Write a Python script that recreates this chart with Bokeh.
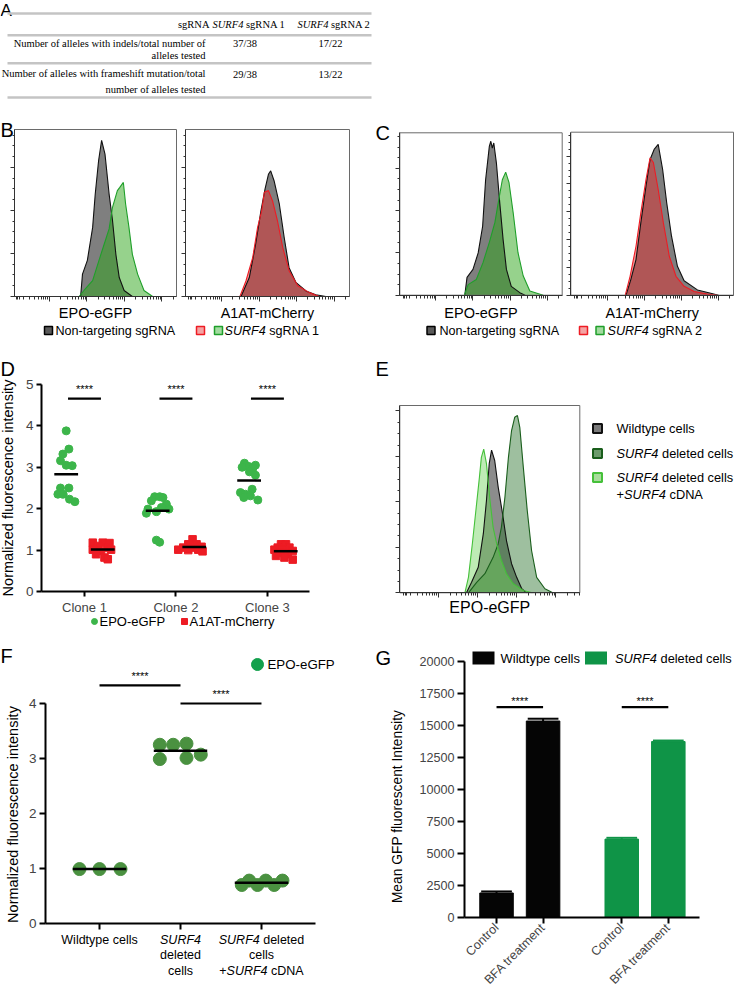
import math
from bokeh.plotting import figure
from bokeh.models import Range1d, FixedTicker, LinearAxis
from bokeh.core.properties import value
from bokeh.embed import file_html
from bokeh.resources import INLINE

SANS = "Liberation Sans"
SERIF = "Liberation Serif"

# ======================= DATA =======================
# Panel A (table)
tab_header = ["sgRNA", "SURF4", "sgRNA 1", "SURF4", "sgRNA 2"]
tab_row1 = ["Number of alleles with indels/total number of", "alleles tested"]
tab_row2 = ["Number of alleles with frameshift mutation/total", "number of alleles tested"]
tab_sg1 = ["37/38", "29/38"]
tab_sg2 = ["17/22", "13/22"]

# Panels B/C histograms: x = log10 fluorescence, y = cell count (a.u.)
b_ntc_epo_x = [2.83, 2.88, 3.01, 3.15, 3.22, 3.31, 3.39, 3.48, 3.59, 3.68, 3.77, 3.86, 3.99, 4.21]
b_ntc_epo_y = [0, 0.52, 0.84, 1.60, 2.38, 3.16, 3.63, 3.31, 2.38, 1.77, 0.98, 0.44, 0.14, 0]
b_sg1_epo_x = [2.79, 2.92, 3.15, 3.32, 3.46, 3.59, 3.68, 3.81, 3.87, 3.97, 4.03, 4.12, 4.21, 4.35, 4.52, 4.75]
b_sg1_epo_y = [0, 0.14, 0.37, 0.84, 1.22, 1.57, 2.07, 2.46, 2.53, 2.65, 2.15, 1.60, 0.98, 0.52, 0.14, 0]
b_ntc_a1at_x = [2.52, 2.74, 2.91, 3.05, 3.16, 3.25, 3.31, 3.40, 3.54, 3.67, 3.80, 3.98, 4.25, 4.51, 4.78]
b_ntc_a1at_y = [0, 0.44, 1.22, 1.99, 2.50, 2.84, 2.92, 2.69, 2.15, 1.37, 0.67, 0.33, 0.13, 0.04, 0]
b_sg1_a1at_x = [2.49, 2.65, 2.83, 2.96, 3.07, 3.14, 3.25, 3.36, 3.49, 3.63, 3.80, 4.03, 4.34, 4.60]
b_sg1_a1at_y = [0, 0.36, 0.90, 1.60, 1.99, 2.42, 2.46, 2.22, 1.76, 1.14, 0.60, 0.25, 0.09, 0]

c_ntc_epo_x = [2.78, 2.84, 3.00, 3.14, 3.26, 3.34, 3.44, 3.48, 3.52, 3.56, 3.63, 3.72, 3.81, 3.90, 4.03, 4.26, 4.40]
c_ntc_epo_y = [0, 0.42, 0.61, 1.00, 1.63, 2.73, 3.52, 3.64, 3.48, 3.60, 3.13, 2.19, 1.32, 0.61, 0.21, 0.06, 0]
c_sg2_epo_x = [2.77, 2.87, 3.09, 3.27, 3.44, 3.59, 3.68, 3.79, 3.88, 3.97, 4.08, 4.21, 4.35, 4.53, 4.89]
c_sg2_epo_y = [0, 0.25, 0.37, 0.77, 1.25, 1.72, 2.19, 2.73, 2.91, 2.66, 1.96, 1.01, 0.46, 0.10, 0]
c_ntc_a1at_x = [2.50, 2.63, 2.77, 2.90, 3.04, 3.15, 3.26, 3.37, 3.49, 3.60, 3.73, 3.89, 4.07, 4.43, 4.79, 5.00]
c_ntc_a1at_y = [0, 0.56, 1.28, 2.60, 3.92, 4.88, 5.24, 5.42, 4.52, 3.32, 2.12, 1.04, 0.52, 0.19, 0.07, 0]
c_sg2_a1at_x = [2.48, 2.61, 2.77, 2.90, 3.04, 3.15, 3.24, 3.37, 3.51, 3.67, 3.85, 4.07, 4.34, 4.70, 4.97]
c_sg2_a1at_y = [0, 0.68, 1.76, 2.96, 4.16, 4.94, 4.77, 3.80, 2.60, 1.40, 0.68, 0.32, 0.13, 0.04, 0]

# Panel D
d_clones = ["Clone 1", "Clone 2", "Clone 3"]
d_epo = [[3.88, 3.44, 3.32, 3.16, 3.05, 3.04, 2.50, 2.50, 2.35, 2.35, 2.23, 2.17],
         [2.29, 2.29, 2.27, 2.19, 2.11, 1.99, 1.99, 2.03, 1.93, 1.89, 1.24, 1.19],
         [3.10, 3.05, 3.02, 3.00, 2.97, 2.89, 2.81, 2.47, 2.39, 2.35, 2.31, 2.27, 2.21]]
d_a1at = [[1.18, 1.18, 1.17, 1.10, 1.06, 1.01, 0.98, 1.01, 0.90, 0.82, 0.78],
          [1.26, 1.14, 1.14, 1.06, 1.06, 1.08, 1.01, 1.00, 1.01, 0.97],
          [1.14, 1.14, 1.06, 1.06, 1.01, 1.01, 0.98, 0.93, 0.90, 0.86, 0.82, 0.77]]
# horizontal scatter of the dots (pixels)
d_epo_jit = [[0, 2.7, -3.3, -5.7, 0, 6, -5.7, 2.7, -8.3, -3, 3.3, 8.7],
             [-3, 2, 5.3, -6.3, 8.7, -9.7, 11.3, 3.7, -1.3, -11.3, -1.3, 2],
             [-4.7, 6.3, -0.3, -7, 3.7, 0.3, 6.3, 3, -8.7, -3.7, 1.3, -5.3, 8.7]]
d_a1at_jit = [[-10, 0, 6.7, -5, 5, -10, -1.7, 8.3, -6.7, 1.7, 5],
              [-1.7, -6, 2.3, -11, -1, 7.3, -16, -6, 4, 8.3],
              [-4.7, 0.3, -8, 3.7, -11.3, -3, 7, -6.3, 2, -9.7, -1.3, 7]]

# Panel E histograms
e_wt_x = [2.72, 2.85, 3.02, 3.15, 3.23, 3.30, 3.36, 3.44, 3.53, 3.64, 3.74, 3.87, 4.00, 4.13, 4.25]
e_wt_y = [0, 0.23, 0.56, 1.30, 2.03, 2.84, 3.14, 2.91, 2.32, 1.74, 1.15, 0.64, 0.34, 0.09, 0]
e_del_x = [2.77, 2.98, 3.19, 3.40, 3.53, 3.61, 3.70, 3.79, 3.87, 3.95, 4.02, 4.08, 4.17, 4.27, 4.38, 4.51, 4.72, 4.92]
e_del_y = [0, 0.23, 0.42, 0.78, 1.08, 1.44, 2.10, 2.98, 3.57, 3.86, 3.90, 3.64, 2.76, 1.81, 0.93, 0.34, 0.09, 0]
e_cdna_x = [2.68, 2.77, 2.87, 2.96, 3.05, 3.10, 3.16, 3.23, 3.32, 3.40, 3.49, 3.61, 3.74, 3.91, 4.17, 4.40]
e_cdna_y = [0, 0.34, 1.08, 1.81, 2.54, 2.98, 3.16, 2.84, 2.03, 1.44, 1.08, 0.71, 0.42, 0.20, 0.05, 0]

# Panel F
f_groups = [["Wildtype cells"], ["SURF4", "deleted", "cells"], ["SURF4 deleted", "cells", "+SURF4 cDNA"]]
f_values = [[0.99, 0.99, 0.99],
            [3.25, 3.25, 3.27, 2.99, 3.01, 3.07],
            [0.70, 0.78, 0.70, 0.78, 0.70, 0.78]]
f_jit = [[-20, 0, 21], [-20.7, -7.3, 6, -20.7, 6, 20.3], [-19.7, -12.3, -4, 4.3, 12.7, 21]]

# Panel G
g_labels = ["Control", "BFA treatment", "Control", "BFA treatment"]
g_means = [1915, 15350, 6125, 13745]
g_sd = [120, 180, 100, 80]

# ======================= HELPERS =======================
AW = {' ': 278, '*': 389, '+': 584, '-': 333, '/': 278, '.': 278}
for ch in "0123456789":
    AW[ch] = 556
AW.update(dict(A=667, B=667, C=722, D=722, E=667, F=611, G=778, H=722, I=278, J=500, K=667, L=556, M=833,
               N=722, O=778, P=667, Q=778, R=722, S=667, T=611, U=722, V=667, W=944, X=667, Y=667, Z=611,
               a=556, b=556, c=500, d=556, e=556, f=278, g=556, h=556, i=222, j=222, k=500, l=222, m=833,
               n=556, o=556, p=556, q=556, r=333, s=500, t=278, u=556, v=500, w=722, x=500, y=500, z=500))
TW = {' ': 250, 'A': 722, 'N': 722, 'R': 667, 'g': 500, 's': 389, '1': 500, '2': 500}
TWI = {'S': 500, 'U': 722, 'R': 611, 'F': 611, '4': 500, ' ': 250}


def twidth(s, size, italic=False, serif=False):
    if serif:
        tab = TWI if italic else TW
        return sum(tab.get(c, 500) for c in s) * size / 1000.0
    return sum(AW.get(c, 556) for c in s) * size / 1000.0


W, H = 734, 991
p = figure(width=W, height=H, x_range=Range1d(0, W), y_range=Range1d(H, 0), title=None,
           x_axis_type=None, y_axis_type=None, min_border=0,
           output_backend="svg", toolbar_location=None)
p.outline_line_color = None
p.background_fill_color = "white"


def T(x, y, s, size, align="left", baseline="middle", italic=False, angle=0.0, font=SANS, color="black"):
    p.text(x=[x], y=[y], text=[s], angle=angle, text_font=value(font), text_font_size=value("%.1fpx" % size),
           text_font_style=value("italic" if italic else "normal"), text_align=value(align),
           text_baseline=value(baseline), text_color=color)


def rich(x, y, parts, size, align="left", font=SANS, serif=False):
    widths = [twidth(t, size, it, serif) for t, it in parts]
    if align == "center":
        x -= sum(widths) / 2.0
    elif align == "right":
        x -= sum(widths)
    for (t, it), w in zip(parts, widths):
        lead = len(t) - len(t.lstrip(" "))
        s = t.strip()
        if s:
            T(x + twidth(" " * lead, size, it, serif), y, s, size, italic=it, font=font)
        x += w


XR, YR, MAP = {}, {}, {}


def panel(name, px0, px1, v0, v1, py_bot, py_top, w_bot, w_top):
    """Data ranges so that x data v0..v1 spans canvas px0..px1 and y data w_bot..w_top spans py_bot..py_top."""
    sx = (v1 - v0) / float(px1 - px0)
    XR[name] = Range1d(v0 - px0 * sx, v0 + (W - px0) * sx)
    sy = (w_top - w_bot) / float(py_bot - py_top)
    YR[name] = Range1d(w_bot - (H - py_bot) * sy, w_bot + py_bot * sy)
    MAP[name] = (lambda v: px0 + (v - v0) / sx, lambda w: py_bot - (w - w_bot) / sy)


def axis(side, name, ticks, fixed, bounds, minor=(), labels=None, tick_out=5, minor_out=0, lw=1.0,
         size="13px", orient=None, color="black", standoff=3):
    ax = LinearAxis(x_range_name=name, y_range_name=name)
    ax.ticker = FixedTicker(ticks=list(ticks), minor_ticks=list(minor))
    ax.fixed_location = fixed
    ax.bounds = bounds
    if labels is None:
        ax.major_label_overrides = {t: "" for t in ticks}
    else:
        ax.major_label_overrides = dict(zip(ticks, labels))
    ax.major_label_text_font = SANS
    ax.major_label_text_font_size = size
    ax.major_label_standoff = standoff
    ax.major_tick_out = tick_out
    ax.major_tick_in = 0
    ax.minor_tick_out = minor_out
    ax.minor_tick_in = 0
    ax.axis_line_width = lw
    ax.major_tick_line_width = lw
    ax.axis_line_color = color
    ax.major_tick_line_color = color
    ax.minor_tick_line_color = color
    if orient is not None:
        ax.major_label_orientation = orient
    p.add_layout(ax, side)
    return ax


# panel geometry (canvas pixels)
panel("b1", 14, 176, 1.067, 5.387, 296, 129, 0, 3.88)
panel("b2", 185, 349, 1.04, 5.41, 296, 129, 0, 3.88)
panel("c1", 399.3, 561.7, 1.032, 5.40, 294.7, 132.3, 0, 3.84)
panel("c2", 570.3, 733, 1.008, 5.405, 294.7, 131.7, 0, 5.86)
panel("e", 399.3, 579.3, 1.02, 5.61, 592.3, 405, 0, 4.12)
panel("d", 41, 309, 0.53, 3.46, 591, 384, 0, 5)
panel("f", 45, 315, 0.333, 3.667, 923, 703, 0, 4)
panel("g", 464, 699, 0.312, 5.36, 917, 661, 0, 20000)
p.extra_x_ranges = XR
p.extra_y_ranges = YR

# ======================= PANEL A =======================
T(0, 0, "A", 17, baseline="top")
p.segment(x0=[7] * 4, y0=[13, 34.7, 62.7, 97], x1=[371] * 4, y1=[13, 34.7, 62.7, 97],
          line_color="#c4c4c4", line_width=2.5)
TS = 10.5
T(209, 23.7, tab_header[0], TS, align="right", font=SERIF)
rich(212, 23.7, [(tab_header[1], True), (" " + tab_header[2], False)], TS, font=SERIF, serif=True)
rich(297, 23.7, [(tab_header[3], True), (" " + tab_header[4], False)], TS, font=SERIF, serif=True)
for yy, s in zip([42.5, 55, 73, 88.7], tab_row1 + tab_row2):
    T(205, yy, s, TS, align="right", font=SERIF)
for yy, s in zip([43, 74], tab_sg1):
    T(244.5, yy, s, TS, align="center", font=SERIF)
for yy, s in zip([43, 74], tab_sg2):
    T(330, yy, s, TS, align="center", font=SERIF)

# ======================= HISTOGRAMS (B, C, E) =======================
HX_MAJOR = [2, 3, 4, 5]
HX_MINOR = [1.12, 1.16, 1.2] + [d + math.log10(k) for d in (1, 2, 3, 4, 5) for k in range(2, 10)]
MAP_RANGE = {"b1": ((1.067, 5.387), 3.88), "b2": ((1.04, 5.41), 3.88), "c1": ((1.032, 5.40), 3.84),
             "c2": ((1.008, 5.405), 5.86), "e": ((1.02, 5.61), 4.12)}


def hist(name, curves, xlabel, xlsize, xly):
    xr0, xr1 = MAP_RANGE[name][0]
    ymax = MAP_RANGE[name][1]
    for xs, ys, fc, fa, lc in curves:
        p.varea(x=xs, y1=0, y2=ys, fill_color=fc, fill_alpha=fa, x_range_name=name, y_range_name=name)
    for xs, ys, fc, fa, lc in curves:
        p.line(xs, ys, line_color=lc, line_width=1.1, x_range_name=name, y_range_name=name)
    p.quad(left=[xr0], right=[xr1], bottom=[0], top=[ymax], fill_color=None, line_color="#6a6a6a",
           line_width=1, x_range_name=name, y_range_name=name)
    axis("below", name, [t for t in HX_MAJOR if xr0 <= t <= xr1], 0, (xr0, xr1),
         minor=[t for t in HX_MINOR if xr0 <= t <= xr1], tick_out=5, minor_out=3, color="#333333")
    n = int(ymax)
    axis("left", name, list(range(n + 1)), xr0, (0, ymax),
         minor=[i * 0.25 for i in range(int(ymax * 4) + 1)], tick_out=4, minor_out=2, color="#333333")
    fx, fy = MAP[name]
    T((fx(xr0) + fx(xr1)) / 2.0, xly, xlabel, xlsize, align="center")


GREEN_F = "#2da519"
RED_F = "#e12d2d"
GREEN_L = "#1f9f2a"
RED_L = "#ee1c24"

hist("b1", [(b_ntc_epo_x, b_ntc_epo_y, "#000000", 0.5, "#111111"),
            (b_sg1_epo_x, b_sg1_epo_y, GREEN_F, 0.5, GREEN_L)], "EPO-eGFP", 14.5, 312)
hist("b2", [(b_ntc_a1at_x, b_ntc_a1at_y, "#000000", 0.5, "#111111"),
            (b_sg1_a1at_x, b_sg1_a1at_y, RED_F, 0.5, RED_L)], "A1AT-mCherry", 14.3, 312)
hist("c1", [(c_ntc_epo_x, c_ntc_epo_y, "#000000", 0.5, "#111111"),
            (c_sg2_epo_x, c_sg2_epo_y, GREEN_F, 0.5, GREEN_L)], "EPO-eGFP", 14.5, 312)
hist("c2", [(c_ntc_a1at_x, c_ntc_a1at_y, "#000000", 0.5, "#111111"),
            (c_sg2_a1at_x, c_sg2_a1at_y, RED_F, 0.5, RED_L)], "A1AT-mCherry", 14.3, 312)
hist("e", [(e_wt_x, e_wt_y, "#000000", 0.45, "#111111"),
           (e_del_x, e_del_y, "#28702a", 0.45, "#1a5e1c"),
           (e_cdna_x, e_cdna_y, "#6ed25a", 0.45, "#45c03a")], "EPO-eGFP", 16, 607)

# B / C legends
LS = 12.6
sq = dict(width=8, height=8, line_width=1.5)
p.rect(x=[48, 430.5], y=[330, 330], fill_color="#5a5a5a", line_color="black", **sq)
p.rect(x=[200, 583], y=[330, 330], fill_color="#f4a3a3", line_color=RED_L, **sq)
p.rect(x=[218, 599.5], y=[330, 330], fill_color="#a3dba0", line_color=GREEN_L, **sq)
T(55, 330, "Non-targeting sgRNA", LS)
T(439, 330, "Non-targeting sgRNA", LS)
rich(224, 330, [("SURF4", True), (" sgRNA 1", False)], LS)
rich(607, 330, [("SURF4", True), (" sgRNA 2", False)], LS)

# E legend
sq2 = dict(width=9, height=9, line_width=2)
p.rect(x=[597], y=[428], fill_color="#7a7a7a", line_color="#111111", **sq2)
p.rect(x=[597], y=[453], fill_color="#6c9c6c", line_color="#1a5e1c", **sq2)
p.rect(x=[597], y=[477], fill_color="#a8dc9c", line_color="#45c03a", **sq2)
ES = 12.8
rich(616, 428, [("Wildtype cells", False)], ES)
rich(616, 453, [("SURF4", True), (" deleted cells", False)], ES)
rich(616, 477, [("SURF4", True), (" deleted cells", False)], ES)
rich(616, 494, [("+", False), ("SURF4", True), (" cDNA", False)], ES)

# panel letters
T(0, 118, "B", 20, baseline="top")
T(375, 121, "C", 20, baseline="top")
T(0, 357, "D", 20, baseline="top")
T(375, 357, "E", 20, baseline="top")
T(0, 644, "F", 20, baseline="top")
T(375, 646, "G", 20, baseline="top")

# ======================= PANEL D =======================
D_PPU = 91.5
d_gx, d_gy, d_rx, d_ry = [], [], [], []
for i in range(3):
    for v, j in zip(d_epo[i], d_epo_jit[i]):
        d_gx.append(i + 1 - 0.2 + j / D_PPU)
        d_gy.append(v)
    for v, j in zip(d_a1at[i], d_a1at_jit[i]):
        d_rx.append(i + 1 + 0.2 + j / D_PPU)
        d_ry.append(v)
p.scatter(d_gx, d_gy, marker="circle", size=8, fill_color="#3cb54a", line_color="#3cb54a",
          x_range_name="d", y_range_name="d")
p.scatter(d_rx, d_ry, marker="square", size=7.5, fill_color="#ed1c24", line_color="#ed1c24",
          x_range_name="d", y_range_name="d")
mx0, mx1, my = [], [], []
for i in range(3):
    m1 = sum(d_epo[i]) / len(d_epo[i])
    m2 = sum(d_a1at[i]) / len(d_a1at[i])
    mx0 += [i + 1 - 0.2 - 0.13, i + 1 + 0.2 - 0.13]
    mx1 += [i + 1 - 0.2 + 0.13, i + 1 + 0.2 + 0.13]
    my += [m1, m2]
p.segment(x0=mx0, y0=my, x1=mx1, y1=my, line_color="black", line_width=2.5, x_range_name="d", y_range_name="d")
p.segment(x0=[c - 0.18 for c in (1, 2, 3)], y0=[4.66] * 3, x1=[c + 0.18 for c in (1, 2, 3)], y1=[4.66] * 3,
          line_color="black", line_width=2.2, x_range_name="d", y_range_name="d")
p.text(x=[1, 2, 3], y=[4.88] * 3, text=["****"] * 3, text_font=value(SANS), text_font_size=value("11px"),
       text_align=value("center"), text_baseline=value("middle"), x_range_name="d", y_range_name="d")
axis("below", "d", [1, 2, 3], 0, (0.53, 3.46), labels=d_clones, tick_out=5, lw=2, size="13px", standoff=3)
axis("left", "d", [0, 1, 2, 3, 4, 5], 0.53, (0, 5), labels=[str(i) for i in range(6)], tick_out=5, lw=2,
     size="13.5px", standoff=3)
T(7, 487.5, "Normalized fluorescence intensity", 14.5, align="center", angle=math.pi / 2)
# legend
p.scatter([94], [621], marker="circle", size=6, fill_color="#3cb54a", line_color="#3cb54a")
p.scatter([184], [621], marker="square", size=6, fill_color="#ed1c24", line_color="#ed1c24")
T(99, 621, "EPO-eGFP", 13)
T(189, 621, "A1AT-mCherry", 13)

# ======================= PANEL F =======================
F_PPU = 81.0
fx_, fy_ = [], []
for i in range(3):
    for v, j in zip(f_values[i], f_jit[i]):
        fx_.append(i + 1 + j / F_PPU)
        fy_.append(v)
p.scatter(fx_, fy_, marker="circle", size=13, fill_color="#4a9140", line_color="#4a9140",
          x_range_name="f", y_range_name="f")
fm = [sum(v) / len(v) for v in f_values]
p.segment(x0=[c - 0.33 for c in (1, 2, 3)], y0=fm, x1=[c + 0.33 for c in (1, 2, 3)], y1=fm,
          line_color="black", line_width=2.5, x_range_name="f", y_range_name="f")
p.segment(x0=[1, 2], y0=[4.33, 4.0], x1=[2, 3], y1=[4.33, 4.0], line_color="black", line_width=2.2,
          x_range_name="f", y_range_name="f")
p.text(x=[1.5, 2.5], y=[4.50, 4.17], text=["****", "****"], text_font=value(SANS), text_font_size=value("11px"),
       text_align=value("center"), text_baseline=value("middle"), x_range_name="f", y_range_name="f")
axis("below", "f", [1, 2, 3], 0, (0.333, 3.667), tick_out=6, lw=2)
axis("left", "f", [0, 1, 2, 3, 4], 0.333, (0, 4), labels=[str(i) for i in range(5)], tick_out=6, lw=2,
     size="13.5px", standoff=3)
T(12, 814, "Normalized fluorescence intensity", 14.5, align="center", angle=math.pi / 2)
p.scatter([257], [664], marker="circle", size=12, fill_color="#12a04c", line_color="#12a04c")
T(267, 664, "EPO-eGFP", 13.3)
FS = 12.5
ffx, ffy = MAP["f"]
for i, lines in enumerate(f_groups):
    cx = ffx(i + 1)
    for k, ln in enumerate(lines):
        if "SURF4" in ln:
            pre, post = ln.split("SURF4")
            parts = ([(pre, False)] if pre else []) + [("SURF4", True)] + ([(post, False)] if post else [])
        else:
            parts = [(ln, False)]
        rich(cx, 939 + 15.5 * k, parts, FS, align="center")

# ======================= PANEL G =======================
gx = [1, 2, 3.69, 4.69]
gcol = ["#050505", "#050505", "#0f9447", "#0f9447"]
gtop = [m + s for m, s in zip(g_means, g_sd)]
p.vbar(x=gx, top=g_means, width=0.72, fill_color=gcol, line_color=gcol, x_range_name="g", y_range_name="g")
p.segment(x0=gx, y0=g_means, x1=gx, y1=gtop, line_color=gcol, line_width=2, x_range_name="g", y_range_name="g")
p.segment(x0=[x - 0.33 for x in gx], y0=gtop, x1=[x + 0.33 for x in gx], y1=gtop, line_color=gcol,
          line_width=2, x_range_name="g", y_range_name="g")
p.segment(x0=[gx[0], gx[2]], y0=[16434, 16434], x1=[gx[1], gx[3]], y1=[16434, 16434],
          line_color="black", line_width=2.2, x_range_name="g", y_range_name="g")
p.text(x=[(gx[0] + gx[1]) / 2, (gx[2] + gx[3]) / 2], y=[16950, 16950], text=["****", "****"],
       text_font=value(SANS), text_font_size=value("11px"), text_align=value("center"),
       text_baseline=value("middle"), x_range_name="g", y_range_name="g")
axis("below", "g", gx, 0, (0.312, 5.36), labels=g_labels, tick_out=6, lw=2, size="12.5px",
     orient=math.pi / 4, standoff=2)
gyt = [0, 2500, 5000, 7500, 10000, 12500, 15000, 17500, 20000]
axis("left", "g", gyt, 0.312, (0, 20000), labels=[str(t) for t in gyt], tick_out=7, lw=2, size="12.6px",
     standoff=3)
T(397, 806, "Mean GFP fluorescent Intensity", 13.8, align="center", angle=math.pi / 2)
# legend
p.rect(x=[483, 595.5], y=[657.5, 657.5], width=22, height=13, fill_color=["#050505", "#0f9447"], line_color=None)
T(500, 657.5, "Wildtype cells", 13)
rich(614.5, 657.5, [("SURF4", True), (" deleted cells", False)], 12.8)

open("out.html", "w").write(file_html(p, INLINE))
